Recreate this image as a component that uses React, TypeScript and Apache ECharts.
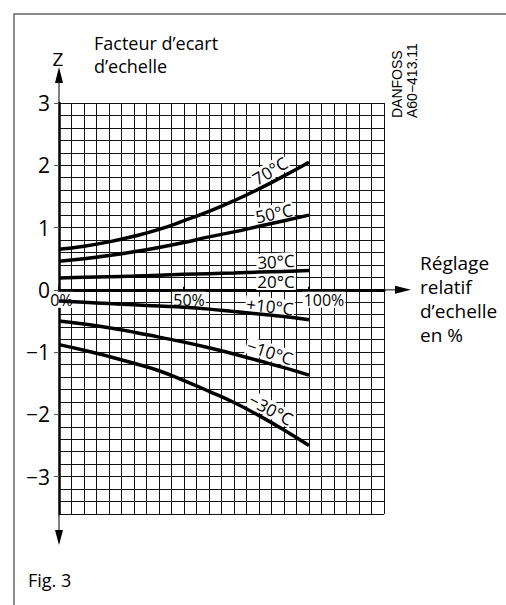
import React, { useEffect, useRef } from "react";
import * as echarts from "echarts";

// Réglage relatif d'echelle (%)
const settingPct = [0, 10, 20, 30, 40, 50, 60, 70, 80, 90, 100];
// Facteur d'ecart d'echelle Z per temperature
const z70 = [0.65, 0.7, 0.77, 0.86, 0.97, 1.11, 1.26, 1.43, 1.62, 1.83, 2.05];
const z50 = [0.46, 0.5, 0.55, 0.61, 0.68, 0.76, 0.85, 0.93, 1.02, 1.11, 1.2];
const z30 = [0.19, 0.2, 0.21, 0.22, 0.235, 0.25, 0.26, 0.27, 0.285, 0.295, 0.31];
const zp10 = [-0.18, -0.2, -0.22, -0.24, -0.26, -0.28, -0.31, -0.35, -0.39, -0.43, -0.48];
const zm10 = [-0.5, -0.55, -0.61, -0.68, -0.76, -0.84, -0.93, -1.03, -1.14, -1.25, -1.37];
const zm30 = [-0.88, -0.97, -1.07, -1.18, -1.3, -1.46, -1.63, -1.81, -2.02, -2.25, -2.5];

const curves = [z70, z50, z30, zp10, zm10, zm30];

// curve labels (in data coordinates)
const curveLabels = ["70°C", "50°C", "30°C", "20°C", "+10°C", "−10°C", "−30°C"];
const labelX = [84.4, 86, 86.8, 86.8, 84.4, 84.4, 84.8];
const labelY = [1.91, 1.23, 0.455, 0.135, -0.265, -1.0, -1.92];
const labelRot = [31, 12, 3, 0, -6, -18, -28];

const yTickLabels = [-3, -2, -1, 0, 1, 2, 3];
const xTickLabels = [0, 50, 100];

const X_MIN = 0;
const X_MAX = 130;
const Y_MIN = -3.6;
const Y_MAX = 3;

const FONT = "'Open Sans', sans-serif";

export default function App() {
  const ref = useRef<HTMLDivElement>(null);
  useEffect(() => {
    if (!ref.current) return;
    const chart = echarts.init(ref.current, null, { renderer: "svg" });
    const gridH = 411;
    const zeroOffset = -(gridH * (0 - Y_MIN)) / (Y_MAX - Y_MIN);
    const option: any = {
      animation: false,
      backgroundColor: "#fff",
      grid: { left: 59, top: 103, width: 325, height: gridH, containLabel: false },
      xAxis: [
        {
          type: "value",
          min: X_MIN,
          max: X_MAX,
          interval: 5,
          axisLine: { show: true, onZero: true, lineStyle: { color: "#000", width: 3 } },
          splitLine: { show: true, lineStyle: { color: "#111", width: 1 } },
          axisTick: { show: false },
          axisLabel: { show: false },
        },
        {
          type: "value",
          min: X_MIN,
          max: X_MAX,
          position: "bottom",
          offset: zeroOffset,
          axisLine: { show: false, onZero: false },
          splitLine: { show: false },
          axisTick: {
            show: true,
            customValues: xTickLabels,
            inside: true,
            length: 3,
            lineStyle: { color: "#000", width: 2 },
          },
          axisLabel: {
            show: true,
            customValues: xTickLabels,
            margin: 2,
            formatter: (v: number) => `{s${v}|}{t|${v}%}`,
            rich: {
              s0: { width: 5 },
              s50: { width: 10 },
              s100: { width: 30 },
              t: {
                fontSize: 16,
                fontFamily: FONT,
                color: "#000",
                backgroundColor: "#fff",
                padding: [0, 1],
              },
            },
          },
        },
      ],
      yAxis: [
        {
          type: "value",
          min: Y_MIN,
          max: Y_MAX,
          interval: 0.2,
          axisLine: { show: true, onZero: false, lineStyle: { color: "#000", width: 2.5 } },
          splitLine: { show: true, lineStyle: { color: "#111", width: 1 } },
          axisTick: { show: false },
          axisLabel: { show: false },
        },
        {
          type: "value",
          min: Y_MIN,
          max: Y_MAX,
          position: "left",
          axisLine: { show: false, onZero: false },
          splitLine: { show: false },
          axisTick: {
            show: true,
            customValues: yTickLabels,
            length: 5,
            lineStyle: { color: "#555", width: 1 },
          },
          axisLabel: {
            show: true,
            customValues: yTickLabels,
            margin: 9,
            fontSize: 21,
            fontFamily: FONT,
            color: "#000",
            formatter: (v: number) => (v < 0 ? "−" + Math.abs(v) : String(v)),
          },
        },
      ],
      series: [
        ...curves.map((c) => ({
          type: "line",
          smooth: true,
          symbol: "none",
          silent: true,
          xAxisIndex: 0,
          yAxisIndex: 0,
          lineStyle: { color: "#000", width: 3.5 },
          data: settingPct.map((x, i) => [x, c[i]]),
          z: 3,
        })),
        {
          type: "scatter",
          symbolSize: 1,
          silent: true,
          xAxisIndex: 0,
          yAxisIndex: 0,
          itemStyle: { color: "#fff", opacity: 1 },
          z: 2,
          data: curveLabels.map((t, i) => ({
            value: [labelX[i], labelY[i]],
            label: {
              show: true,
              position: "inside",
              formatter: t,
              rotate: labelRot[i],
              fontSize: 17,
              fontFamily: FONT,
              color: "#000",
              opacity: 1,
              textBorderWidth: 0,
              textBorderColor: "transparent",
              backgroundColor: "#fff",
              padding: [0, 1],
            },
          })),
        },
      ],
    };
    chart.setOption(option);

    const p = (x: number, y: number) =>
      chart.convertToPixel({ xAxisIndex: 0, yAxisIndex: 0 }, [x, y]) as number[];
    const [x0, yTop] = p(0, Y_MAX);
    const yBot = p(0, Y_MIN)[1];
    const [xR, y0] = p(X_MAX, 0);
    const gray = "#555";
    chart.setOption({
      graphic: [
        {
          type: "polyline",
          shape: { points: [[14, 610], [14, 14], [510, 14]] },
          style: { stroke: "#666", lineWidth: 1.5, fill: null },
        },
        { type: "line", shape: { x1: x0, y1: yTop, x2: x0, y2: yTop - 22 }, style: { stroke: gray, lineWidth: 1.5 } },
        {
          type: "polygon",
          shape: { points: [[x0, yTop - 36], [x0 - 4, yTop - 20], [x0 + 4, yTop - 20]] },
          style: { fill: "#000" },
        },
        { type: "line", shape: { x1: x0, y1: yBot, x2: x0, y2: yBot + 18 }, style: { stroke: gray, lineWidth: 1.5 } },
        {
          type: "polygon",
          shape: { points: [[x0, yBot + 31], [x0 - 4, yBot + 16], [x0 + 4, yBot + 16]] },
          style: { fill: "#000" },
        },
        { type: "line", shape: { x1: xR, y1: y0, x2: xR + 13, y2: y0 }, style: { stroke: gray, lineWidth: 1.5 } },
        {
          type: "polygon",
          shape: { points: [[xR + 27, y0], [xR + 11, y0 - 4], [xR + 11, y0 + 4]] },
          style: { fill: "#000" },
        },
        {
          type: "text",
          x: 58,
          y: 59,
          style: { text: "Z", fontSize: 19, fontFamily: FONT, fill: "#000", align: "center", verticalAlign: "middle" },
        },
        {
          type: "text",
          x: 94,
          y: 43,
          style: { text: "Facteur d’ecart", fontSize: 18, fontFamily: FONT, fill: "#000", align: "left", verticalAlign: "middle" },
        },
        {
          type: "text",
          x: 94,
          y: 66,
          style: { text: "d’echelle", fontSize: 18, fontFamily: FONT, fill: "#000", align: "left", verticalAlign: "middle" },
        },
        {
          type: "text",
          x: 420,
          y: 251,
          style: {
            text: "Réglage\nrelatif\nd’echelle\nen %",
            fontSize: 19,
            lineHeight: 24,
            fontFamily: FONT,
            fill: "#000",
            align: "left",
            verticalAlign: "top",
          },
        },
        {
          type: "text",
          x: 28,
          y: 571,
          style: { text: "Fig. 3", fontSize: 18, fontFamily: FONT, fill: "#000", align: "left", verticalAlign: "top" },
        },
        {
          type: "text",
          x: 404,
          y: 118,
          rotation: Math.PI / 2,
          style: {
            text: "DANFOSS",
            fontSize: 14,
            fontFamily: "'Liberation Sans', Arial, sans-serif",
            fill: "#000",
            align: "left",
            verticalAlign: "bottom",
          },
        },
        {
          type: "text",
          x: 405,
          y: 118,
          rotation: Math.PI / 2,
          style: {
            text: "A60−413.11",
            fontSize: 14,
            fontFamily: "'Liberation Sans', Arial, sans-serif",
            fill: "#000",
            align: "left",
            verticalAlign: "top",
          },
        },
      ],
    });
    return () => chart.dispose();
  }, []);
  return (
    <div
      ref={ref}
      style={{ position: "fixed", left: 0, top: 0, width: 506, height: 605, background: "#fff" }}
    />
  );
}
